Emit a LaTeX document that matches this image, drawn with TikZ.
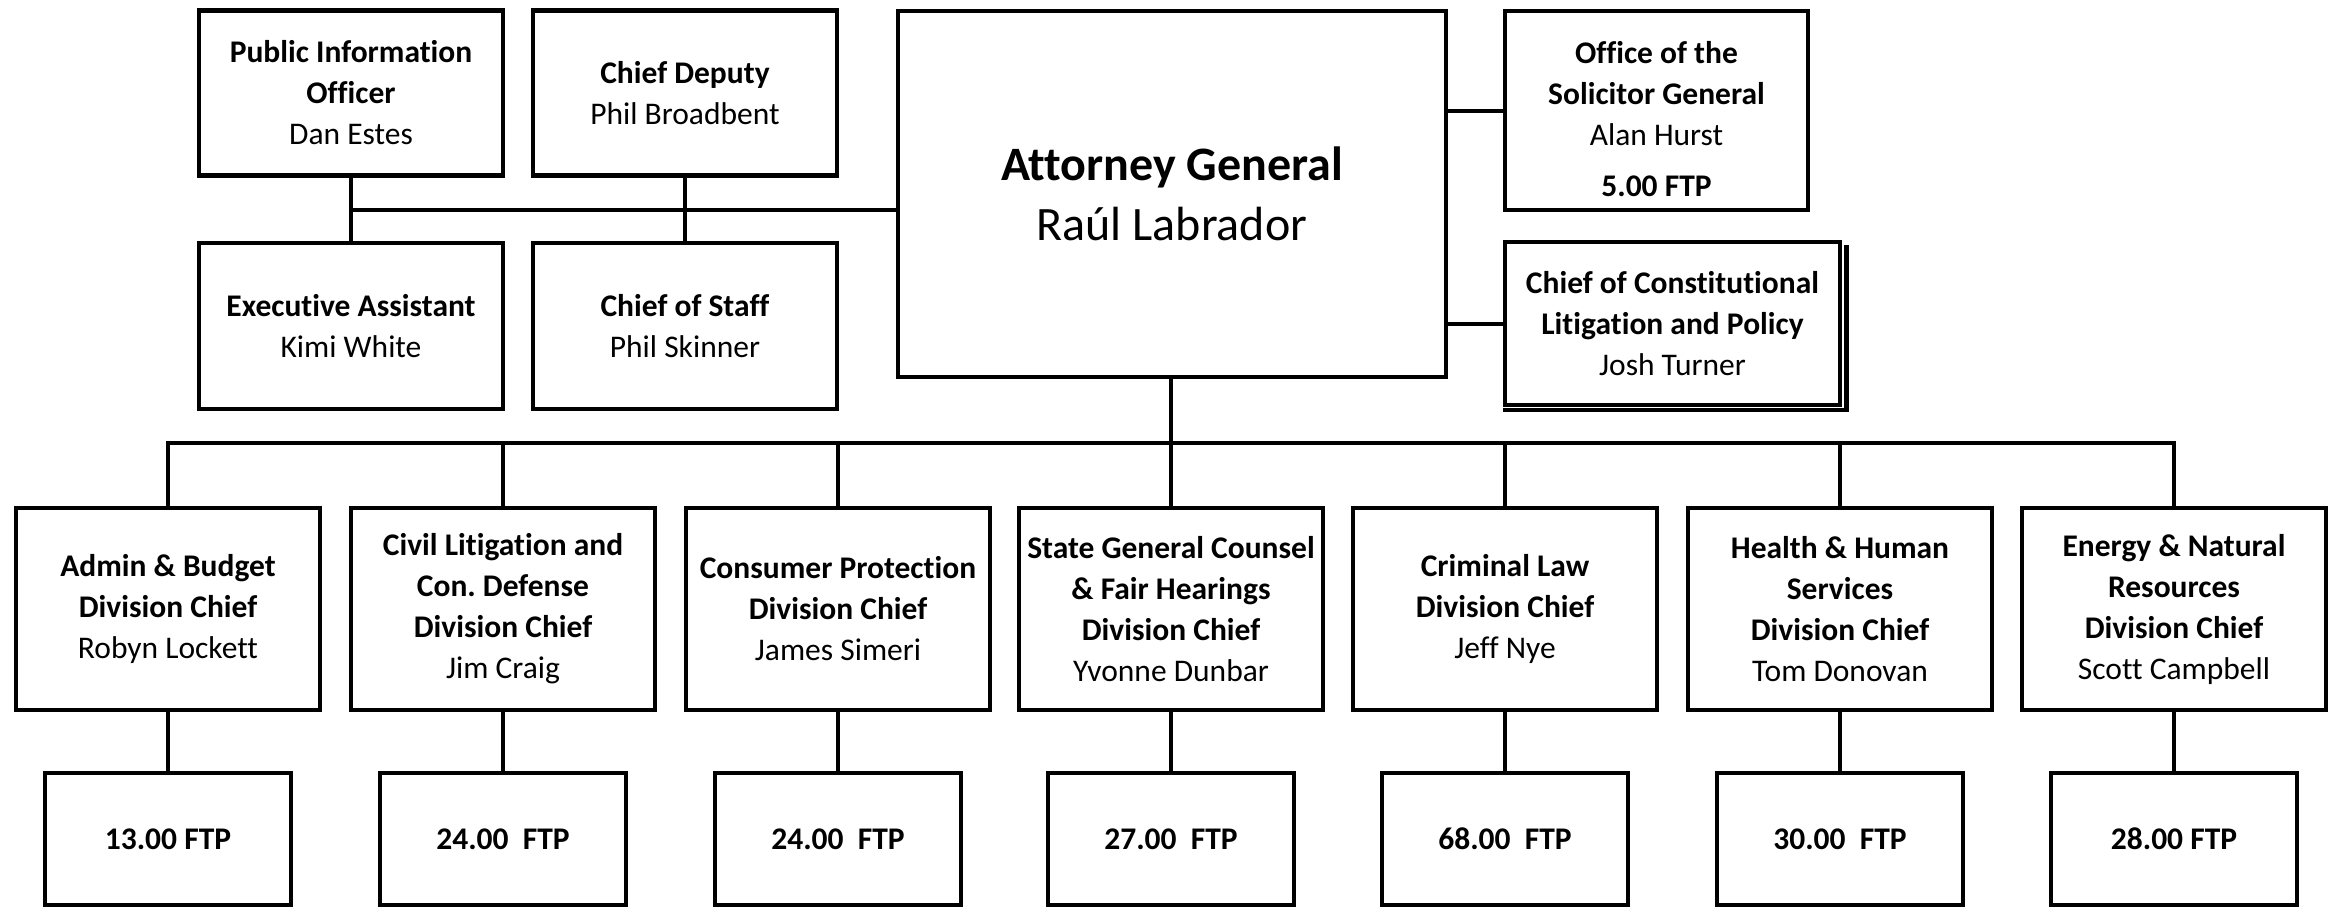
\documentclass[tikz,border=0pt]{standalone}
\usepackage{fontspec}
\setmainfont{Carlito}[Ligatures={NoCommon,NoRequired,NoContextual}]
\begin{document}
\frenchspacing
\begin{tikzpicture}[x=1pt,y=-1pt,
  box/.style={draw, line width=4.5pt, inner sep=0pt, align=center, font=\fontsize{31.5}{41}\selectfont},
  txt/.style={inner sep=0pt, align=center, font=\fontsize{31.5}{41}\selectfont},
  top/.style={box, minimum width=304pt, minimum height=165pt},
  div/.style={box, minimum width=304pt, minimum height=202pt},
  ftp/.style={box, minimum width=246pt, minimum height=132pt, font=\bfseries\fontsize{31.5}{41}\selectfont},
  conn/.style={line width=4pt, line join=miter}]
\useasboundingbox (0,0) rectangle (2332,908);

% top-left staff boxes
\node[top] (pio) at (351,93) {\textbf{Public Information}\\\textbf{Officer}\\Dan Estes};
\node[top] (cdep) at (685,93) {\textbf{Chief Deputy}\\Phil Broadbent};
\node[top, minimum height=166pt] (exec) at (351,326) {\textbf{Executive Assistant}\\Kimi White};
\node[top, minimum height=166pt] (cos) at (685,326) {\textbf{Chief of Staff}\\Phil Skinner};

% attorney general
\node[box, minimum width=548pt, minimum height=366pt, font=\fontsize{48}{60}\selectfont] (ag) at (1172,194) {\textbf{Attorney General}\\Raúl Labrador};

% right boxes
\node[box, minimum width=303pt, minimum height=199pt] (sol) at (1656.5,110.5) {};
\node[txt] (solt) at ([yshift=-9pt]sol.center) {\textbf{Office of the}\\\textbf{Solicitor General}\\Alan Hurst\\[10pt]\textbf{5.00 FTP}};
\node[box, minimum width=335pt, minimum height=163pt] (con) at (1672.5,323.5) {\textbf{Chief of Constitutional}\\\textbf{Litigation and Policy}\\Josh Turner};
\draw[line width=4.5pt] ([xshift=4pt,yshift=-5pt]con.north east) -- ([xshift=4pt,yshift=-2.5pt]con.south east) -- ([yshift=-2.5pt]con.south west);

% divisions
\node[div] (d1) at (168,609) {\textbf{Admin \& Budget}\\\textbf{Division Chief}\\Robyn Lockett};
\node[div] (d2) at (503,609) {\textbf{Civil Litigation and}\\\textbf{Con. Defense}\\\textbf{Division Chief}\\Jim Craig};
\node[div] (d3) at (838,609) {\textbf{Consumer Protection}\\\textbf{Division Chief}\\James Simeri};
\node[div] (d4) at (1171,609) {\textbf{State General Counsel}\\\textbf{\& Fair Hearings}\\\textbf{Division Chief}\\Yvonne Dunbar};
\node[div] (d5) at (1505,609) {\textbf{Criminal Law}\\\textbf{Division Chief}\\Jeff Nye};
\node[div] (d6) at (1840,609) {\textbf{Health \& Human}\\\textbf{Services}\\\textbf{Division Chief}\\Tom Donovan};
\node[div] (d7) at (2174,609) {\textbf{Energy \& Natural}\\\textbf{Resources}\\\textbf{Division Chief}\\Scott Campbell};

% FTP boxes
\node[ftp] (f1) at (168,839) {13.00 FTP};
\node[ftp] (f2) at (503,839) {24.00\ \ FTP};
\node[ftp] (f3) at (838,839) {24.00\ \ FTP};
\node[ftp] (f4) at (1171,839) {27.00\ \ FTP};
\node[ftp] (f5) at (1505,839) {68.00\ \ FTP};
\node[ftp] (f6) at (1840,839) {30.00\ \ FTP};
\node[ftp] (f7) at (2174,839) {28.00 FTP};

% connectors
\coordinate (hl) at (351,210);
\coordinate (bus) at (1171,443);
\draw[conn] (pio.south) -- (exec.north);
\draw[conn] (cdep.south) -- (cos.north);
\draw[conn] (hl) -- (hl -| ag.west);
\draw[conn] (ag.east |- sol.west) -- (sol.west);
\draw[conn] (ag.east |- con.west) -- (con.west);
\draw[conn] (ag.south -| bus) -- (bus);
\draw[conn] (d1.north) -- (d1.north |- bus) -- (d7.north |- bus) -- (d7.north);
\foreach \i in {2,...,6} {\draw[conn] (d\i.north) -- (d\i.north |- bus);}
\foreach \i in {1,...,7} {\draw[conn] (d\i.south) -- (f\i.north);}
\end{tikzpicture}
\end{document}
